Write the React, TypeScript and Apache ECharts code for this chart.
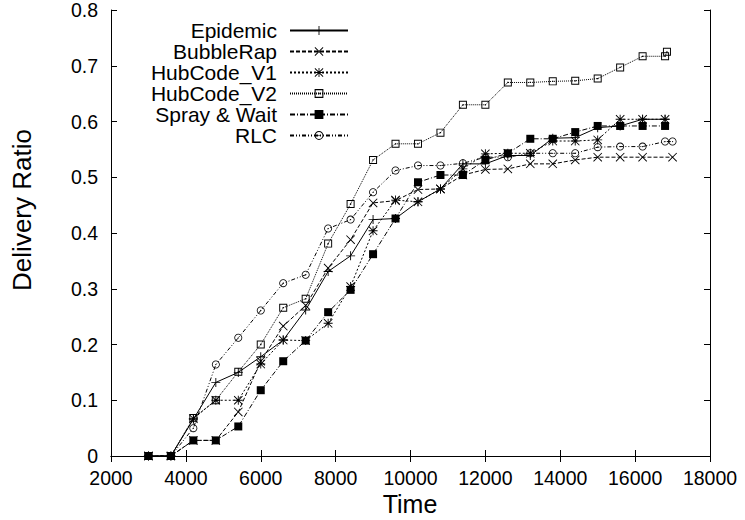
import React, { useEffect, useRef } from "react";
import * as echarts from "echarts";

const timeSteps = [3000, 3600, 4200, 4800, 5400, 6000, 6600, 7200, 7800, 8400, 9000, 9600, 10200, 10800, 11400, 12000, 12600, 13200, 13800, 14400, 15000, 15600, 16200, 16800];

const epidemicX = timeSteps;
const epidemicY = [0, 0, 0.066, 0.132, 0.150, 0.178, 0.208, 0.262, 0.331, 0.359, 0.424, 0.426, 0.456, 0.479, 0.524, 0.524, 0.539, 0.539, 0.570, 0.571, 0.589, 0.592, 0.604, 0.604];

const bubbleX = [3000, 3600, 4200, 4800, 5400, 6000, 6600, 7200, 7800, 8400, 9000, 9600, 10200, 10800, 11400, 12000, 12600, 13200, 13800, 14400, 15000, 15600, 16200, 17000];
const bubbleY = [0, 0, 0.028, 0.028, 0.079, 0.170, 0.233, 0.270, 0.337, 0.388, 0.454, 0.458, 0.478, 0.479, 0.504, 0.514, 0.515, 0.524, 0.524, 0.531, 0.536, 0.536, 0.536, 0.536];

const hubV1X = timeSteps;
const hubV1Y = [0, 0, 0.067, 0.100, 0.100, 0.165, 0.208, 0.207, 0.238, 0.304, 0.404, 0.459, 0.456, 0.479, 0.515, 0.542, 0.543, 0.543, 0.565, 0.565, 0.567, 0.604, 0.604, 0.604];

const hubV2X = [3000, 3600, 4200, 4800, 5400, 6000, 6600, 7200, 7800, 8400, 9000, 9600, 10200, 10800, 11400, 12000, 12600, 13200, 13800, 14400, 15000, 15600, 16200, 16800, 16850];
const hubV2Y = [0, 0, 0.068, 0.100, 0.151, 0.200, 0.266, 0.282, 0.381, 0.452, 0.531, 0.560, 0.560, 0.580, 0.630, 0.630, 0.670, 0.670, 0.672, 0.673, 0.677, 0.697, 0.717, 0.717, 0.725];

const sprayX = timeSteps;
const sprayY = [0, 0, 0.028, 0.028, 0.053, 0.118, 0.170, 0.207, 0.258, 0.298, 0.362, 0.426, 0.491, 0.504, 0.504, 0.531, 0.543, 0.569, 0.569, 0.581, 0.592, 0.592, 0.592, 0.592];

const rlcX = [3000, 3600, 4200, 4800, 5400, 6000, 6600, 7200, 7800, 8400, 9000, 9600, 10200, 10800, 11400, 12000, 12600, 13200, 13800, 14400, 15000, 15600, 16200, 16800, 17000];
const rlcY = [0, 0, 0.050, 0.164, 0.212, 0.261, 0.310, 0.325, 0.408, 0.424, 0.473, 0.512, 0.521, 0.521, 0.525, 0.536, 0.536, 0.543, 0.543, 0.543, 0.554, 0.555, 0.555, 0.564, 0.564];

const seriesNames = ["Epidemic", "BubbleRap", "HubCode_V1", "HubCode_V2", "Spray & Wait", "RLC"];
const xTicks = { min: 2000, max: 18000, interval: 2000 };
const yTicks = { min: 0, max: 0.8, interval: 0.1 };

const FONT = "Liberation Sans, Arial, sans-serif";

const PLUS = "M4.5,0 L5.5,0 L5.5,10 L4.5,10 Z M0,4.5 L10,4.5 L10,5.5 L0,5.5 Z";
const CROSS = "M0,0.7 L0.7,0 L10,9.3 L9.3,10 Z M9.3,0 L10,0.7 L0.7,10 L0,9.3 Z";
const STAR = PLUS + " " + CROSS;
const BOXDOT = "M0,0 L10,0 L10,10 L0,10 Z M1.2,1.2 L1.2,8.8 L8.8,8.8 L8.8,1.2 Z M4.2,4.2 L5.8,4.2 L5.8,5.8 L4.2,5.8 Z";

function circ(cx: number, cy: number, r: number, cw: boolean): string {
  const k = 0.5523 * r;
  if (cw) {
    return `M${cx + r},${cy} C${cx + r},${cy + k} ${cx + k},${cy + r} ${cx},${cy + r} C${cx - k},${cy + r} ${cx - r},${cy + k} ${cx - r},${cy} C${cx - r},${cy - k} ${cx - k},${cy - r} ${cx},${cy - r} C${cx + k},${cy - r} ${cx + r},${cy - k} ${cx + r},${cy} Z`;
  }
  return `M${cx + r},${cy} C${cx + r},${cy - k} ${cx + k},${cy - r} ${cx},${cy - r} C${cx - k},${cy - r} ${cx - r},${cy - k} ${cx - r},${cy} C${cx - r},${cy + k} ${cx - k},${cy + r} ${cx},${cy + r} C${cx + k},${cy + r} ${cx + r},${cy + k} ${cx + r},${cy} Z`;
}
const RINGDOT = circ(5, 5, 5, true) + " " + circ(5, 5, 4, false) + " " + circ(5, 5, 0.8, true);

function pairs(xs: number[], ys: number[]): number[][] {
  return xs.map((x, i) => [x, ys[i]]);
}

export default function App() {
  const ref = useRef<HTMLDivElement>(null);
  useEffect(() => {
    if (!ref.current) return;
    const chart = echarts.init(ref.current, undefined, { renderer: "svg" });
    const mk = (name: string, xs: number[], ys: number[], symbol: string, size: number, dash: any) => ({
      name,
      type: "line",
      data: pairs(xs, ys),
      symbol,
      symbolSize: size,
      showSymbol: true,
      lineStyle: { color: "#000", width: 1, type: dash },
      itemStyle: { color: "#000", borderWidth: 0 },
      emphasis: { disabled: true },
      clip: false,
    });
    const axisCommon = {
      axisLine: { show: true, lineStyle: { color: "#000", width: 1 } },
      axisTick: { show: true, inside: true, length: 6, lineStyle: { color: "#000", width: 1 } },
      splitLine: { show: false },
    };
    chart.setOption({
      animation: false,
      backgroundColor: "#fff",
      grid: { left: 111, right: 35, top: 10, bottom: 64 },
      xAxis: [
        {
          type: "value", ...xTicks, position: "bottom", ...axisCommon,
          axisLabel: { show: true, color: "#000", fontSize: 19.5, fontFamily: FONT, margin: 12,
            formatter: (v: number) => String(v) },
        },
        {
          type: "value", ...xTicks, position: "top", ...axisCommon,
          axisLabel: { show: false },
        },
      ],
      yAxis: [
        {
          type: "value", ...yTicks, position: "left", ...axisCommon,
          axisLabel: { show: true, color: "#000", fontSize: 19.5, fontFamily: FONT, margin: 13,
            formatter: (v: number) => (v === 0 ? "0" : v.toFixed(1)) },
        },
        {
          type: "value", ...yTicks, position: "right", ...axisCommon,
          axisLabel: { show: false },
        },
      ],
      legend: {
        data: seriesNames,
        orient: "vertical",
        align: "right",
        right: 396,
        top: 20,
        padding: 0,
        itemGap: 0,
        itemWidth: 58,
        itemHeight: 11,
        selectedMode: false,
        textStyle: { color: "#000", fontSize: 21, fontFamily: FONT, lineHeight: 21, padding: [0, 8, 0, 0] },
        itemStyle: { borderWidth: 0 },
      },
      graphic: [
        {
          type: "text", x: 22, y: 210, rotation: Math.PI / 2,
          style: { text: "Delivery Ratio", fontSize: 26, fontFamily: FONT, fill: "#000", align: "center", verticalAlign: "middle" },
        },
        {
          type: "text", x: 410, y: 504,
          style: { text: "Time", fontSize: 25, fontFamily: FONT, fill: "#000", align: "center", verticalAlign: "middle" },
        },
      ],
      series: [
        mk(seriesNames[0], epidemicX, epidemicY, "path://" + PLUS, 9, "solid"),
        mk(seriesNames[1], bubbleX, bubbleY, "path://" + CROSS, 9, [4, 2]),
        mk(seriesNames[2], hubV1X, hubV1Y, "path://" + STAR, 9, [2, 2]),
        mk(seriesNames[3], hubV2X, hubV2Y, "path://" + BOXDOT, 8, [1, 1]),
        mk(seriesNames[4], sprayX, sprayY, "rect", 8, [5, 2, 1, 2]),
        mk(seriesNames[5], rlcX, rlcY, "path://" + RINGDOT, 8, [4, 2, 1, 2, 1, 2]),
      ],
    });
    return () => chart.dispose();
  }, []);
  return <div ref={ref} style={{ width: 745, height: 520, position: "absolute", left: 0, top: 0 }} />;
}
